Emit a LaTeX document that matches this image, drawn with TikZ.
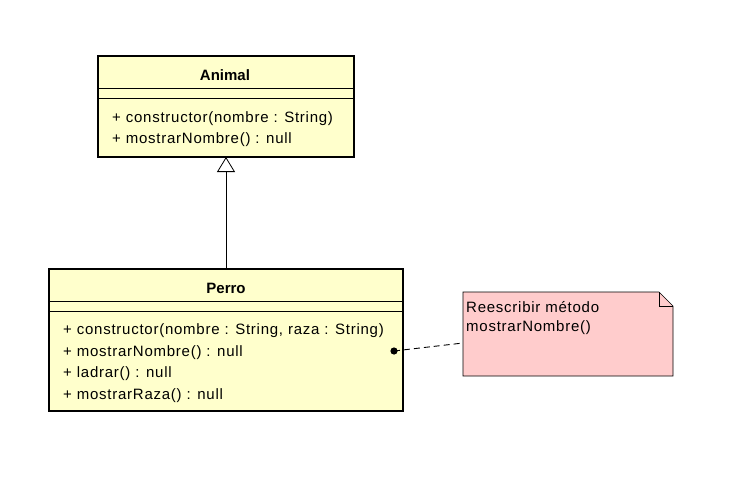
\documentclass[tikz,border=0pt]{standalone}
\usepackage{fontspec}
\setmainfont{Liberation Sans}
\newfontfamily\umlfont[LetterSpace=5]{Liberation Sans}
\usetikzlibrary{arrows.meta}
\definecolor{classfill}{RGB}{255,255,204}
\definecolor{notefill}{RGB}{255,204,204}
\begin{document}
\begin{tikzpicture}[x=1pt,y=-1pt,
  classbox/.style={draw=black,fill=classfill,line width=2.6pt},
  sepline/.style={draw=black,line width=0.8pt},
  txt/.style={inner sep=0pt,anchor=west,font=\umlfont\fontsize{15}{17}\selectfont},
  ttl/.style={inner sep=0pt,font=\bfseries\fontsize{15}{17}\selectfont},
  notebox/.style={draw=black,fill=notefill,line width=0.6pt}]
\useasboundingbox (0,0) rectangle (734,490);
% Animal
\draw[classbox] (98,56) rectangle (354,157);
\coordinate (animalbot) at (226,157);
\draw[sepline] (98,88) -- (354,88);
\draw[sepline] (98,98) -- (354,98);
\node[ttl] (animalt) at (225,75) {Animal};
\node[txt] (a1) at (112,118.5) {+ constructor(nombre : String)};
\node[txt] (a2) at (112,139.5) {+ mostrarNombre() : null};
% Perro
\draw[classbox] (49,269) rectangle (403,411);
\coordinate (perrotop) at (226,269);
\draw[sepline] (49,301) -- (403,301);
\draw[sepline] (49,311) -- (403,311);
\node[ttl] (perrot) at (226,288) {Perro};
\node[txt] (p1) at (63,330.5) {+ constructor(nombre : String, raza : String)};
\node[txt] (p2) at (63,352.5) {+ mostrarNombre() : null};
\node[txt] (p3) at (63,374) {+ ladrar() : null};
\node[txt] (p4) at (63,395.5) {+ mostrarRaza() : null};
% inheritance
\draw[line width=0.8pt,-{Triangle[open,width=18pt,length=15pt]}] (perrotop) -- (animalbot);
% note
\draw[notebox] (463,292) -- (659,292) -- (673,306) -- (673,376) -- (463,376) -- cycle;
\draw[line width=0.6pt] (659,292) -- (659,306) -- (673,306);
\node[txt] (n1) at (466,307) {Reescribir método};
\node[txt] (n2) at (466,328) {mostrarNombre()};
\coordinate (notel) at (463,343);
\coordinate (dot) at (394,351);
\fill (dot) circle (3.6pt);
\draw[line width=0.9pt,dash pattern=on 6pt off 4pt] (dot) -- (notel);
\end{tikzpicture}
\end{document}
